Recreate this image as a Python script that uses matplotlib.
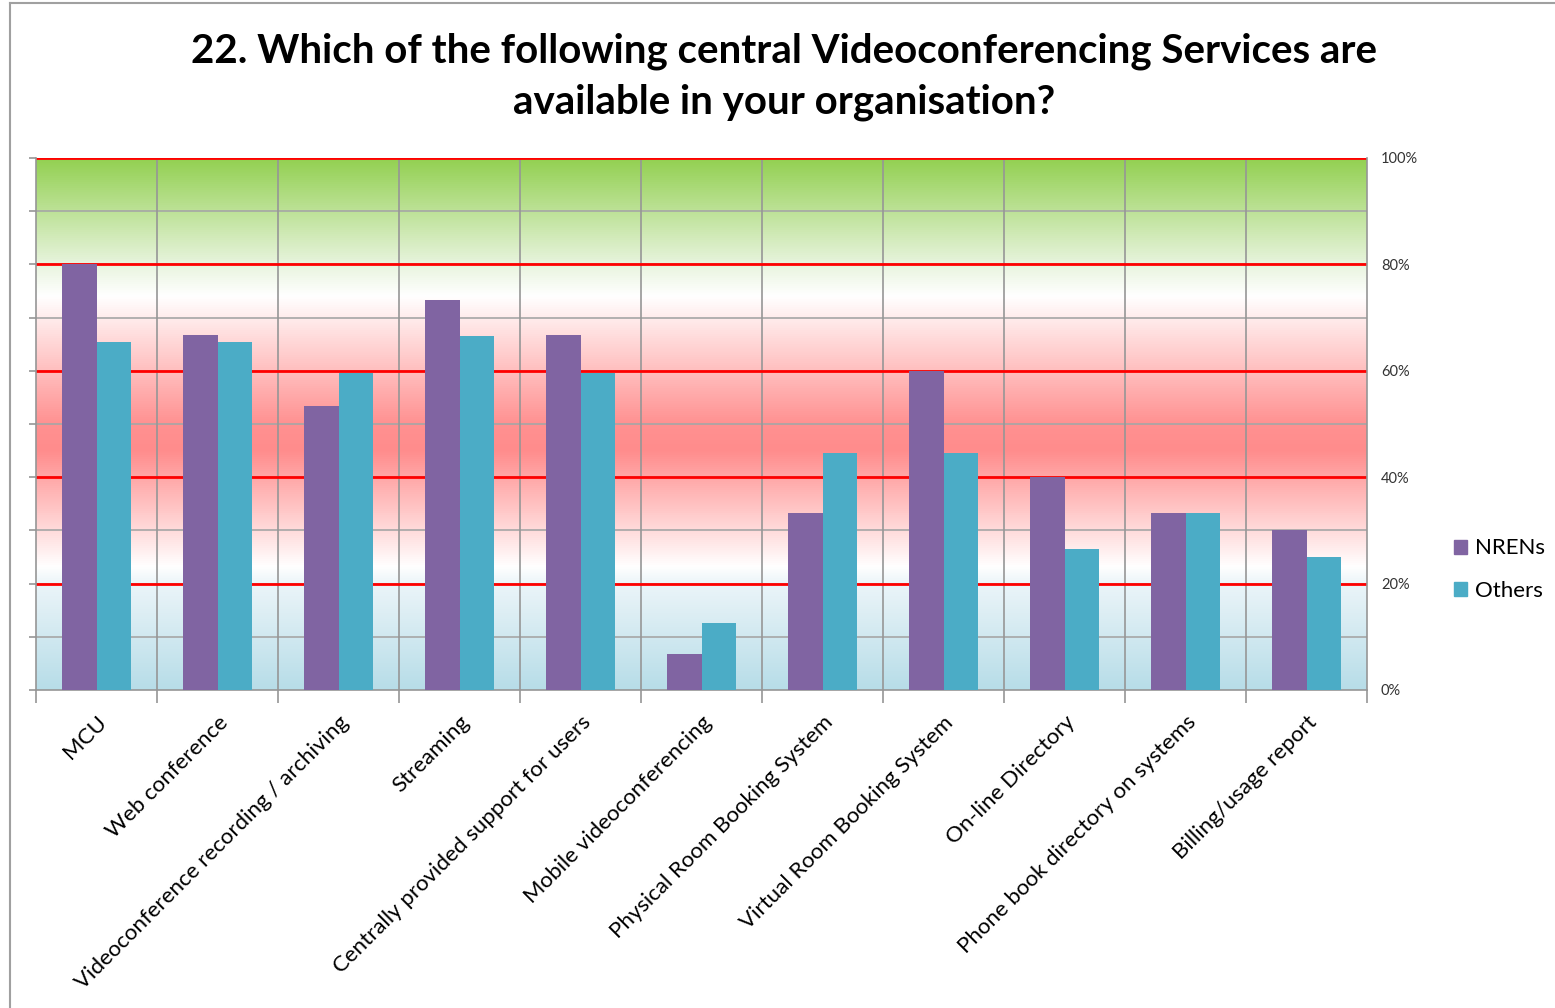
import numpy as np
import matplotlib
matplotlib.use("Agg")
import matplotlib.pyplot as plt
from matplotlib.colors import LinearSegmentedColormap
from matplotlib.lines import Line2D
from matplotlib.patches import Patch

categories = ["MCU", "Web conference", "Videoconference recording / archiving",
              "Streaming", "Centrally provided support for users",
              "Mobile videoconferencing", "Physical Room Booking System",
              "Virtual Room Booking System", "On-line Directory",
              "Phone book directory on systems", "Billing/usage report"]
nrens = [80.0, 66.7, 53.3, 73.3, 66.7, 6.7, 33.3, 60.0, 40.0, 33.3, 30.0]
others = [65.5, 65.5, 59.5, 66.5, 59.5, 12.5, 44.5, 44.5, 26.5, 33.3, 25.0]
series_names = ["NRENs", "Others"]
yticks = [0, 20, 40, 60, 80, 100]

plt.rcParams['font.family'] = ['Lato', 'DejaVu Sans']

fig = plt.figure(figsize=(15.55, 10.08), dpi=100)
ax = fig.add_axes([0.0232, 0.3155, 0.8559, 0.5278])

n = len(categories)
x = np.arange(n)
w = 0.285

# background gradient (bottom -> top)
stops = [(0.00, (183/255, 221/255, 232/255)),
         (0.20, (236/255, 245/255, 249/255)),
         (0.23, (1.0, 1.0, 1.0)),
         (0.45, (1.0, 140/255, 140/255)),
         (0.50, (1.0, 145/255, 145/255)),
         (0.74, (1.0, 1.0, 1.0)),
         (0.80, (232/255, 244/255, 222/255)),
         (1.00, (146/255, 208/255, 80/255))]
cmap = LinearSegmentedColormap.from_list("bg", stops)
grad = np.linspace(0, 1, 512).reshape(-1, 1)
ax.imshow(grad, cmap=cmap, origin="lower", aspect="auto",
          extent=(-0.5, n - 0.5, 0, 100), zorder=0)

for v in range(10, 100, 10):
    ax.axhline(v, color="#a6a6a6", lw=1.2, zorder=1)
for v in yticks[1:]:
    ax.axhline(v, color="#ff0000", lw=2, zorder=1.5)
for b in np.arange(0.5, n - 0.5, 1):
    ax.axvline(b, color="#969696", lw=1.2, zorder=1)

ax.bar(x - w / 2, nrens, w, color="#8064A2", zorder=3)
ax.bar(x + w / 2, others, w, color="#4BACC6", zorder=3)

ax.set_xlim(-0.5, n - 0.5)
ax.set_ylim(0, 100)

for side in ["left", "right", "bottom"]:
    ax.spines[side].set_color("#969696")
    ax.spines[side].set_linewidth(1.2)
ax.spines["top"].set_visible(False)

# x ticks at category boundaries, labels at centres
ax.set_xticks(np.arange(-0.5, n, 1))
ax.set_xticklabels([])
ax.tick_params(axis="x", which="major", length=9, color="#969696", width=1.2)
ax.set_xticks(x, minor=True)
ax.set_xticklabels(categories, minor=True, rotation=45, ha="right",
                   rotation_mode="anchor", fontsize=16, color="#000000")
ax.tick_params(axis="x", which="minor", length=0, pad=16)

ax.set_yticks(yticks)
ax.set_yticklabels([f"{v}%" for v in yticks])
ax.set_yticks(range(10, 100, 20), minor=True)
ax.tick_params(axis="y", which="both", left=True, right=False, labelleft=False,
               labelright=True, length=5, color="#969696", width=1.2,
               labelsize=10.5, labelcolor="#333333", pad=5)

handles = [Patch(color="#8064A2"), Patch(color="#4BACC6")]
fig.legend(handles, series_names, loc="center left", bbox_to_anchor=(0.922, 0.435),
           frameon=False, fontsize=16, handlelength=0.6, handleheight=0.6,
           handletextpad=0.35, labelspacing=1.0)

fig.text(0.504, 1 - 77 / 1008,
         "22. Which of the following central Videoconferencing Services are\navailable in your organisation?",
         ha="center", va="center", fontsize=29, fontweight="bold", linespacing=1.45)

# outer chart border
fig.add_artist(Line2D([10 / 1555, 10 / 1555], [0, 1 - 3 / 1008], color="#a0a0a0", lw=1.5))
fig.add_artist(Line2D([10 / 1555, 1], [1 - 3 / 1008, 1 - 3 / 1008], color="#a0a0a0", lw=1.5))

fig.savefig("out.png", dpi=100)
